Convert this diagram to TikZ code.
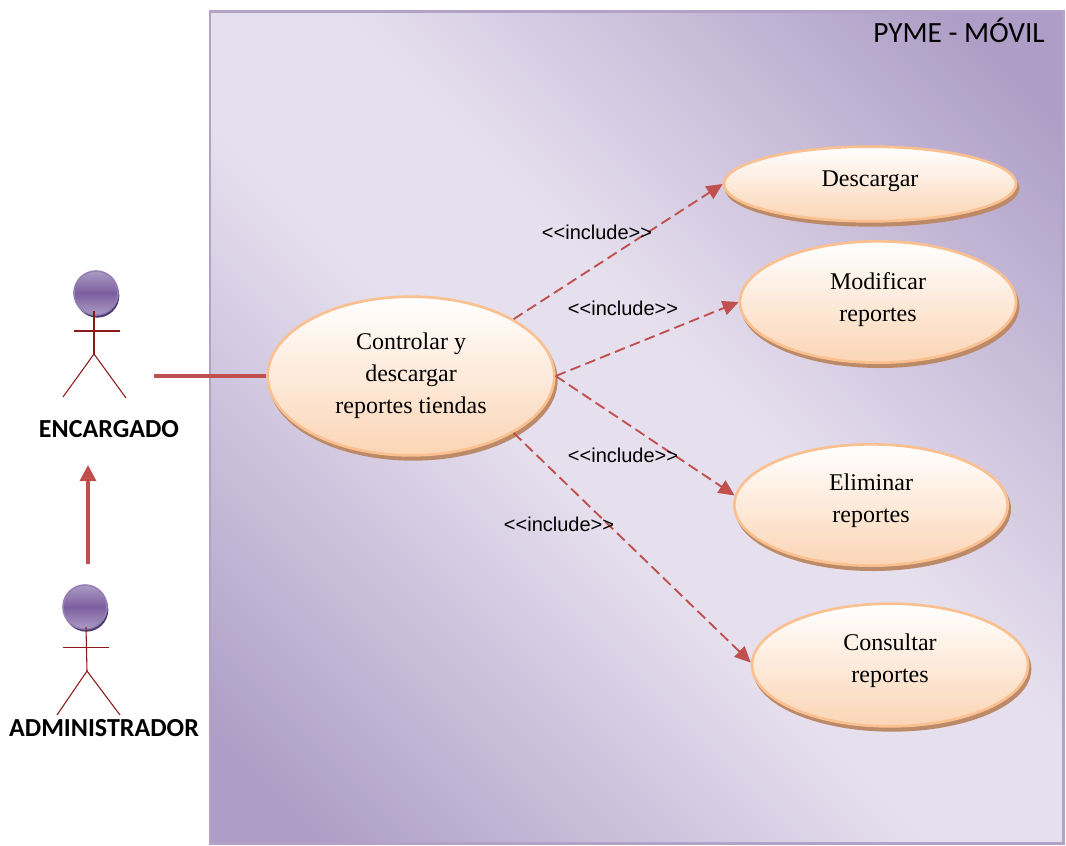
\documentclass[tikz,border=0pt]{standalone}
\usepackage{fontspec}
\setmainfont{Liberation Serif}
\newfontfamily\calibrifont{Carlito}
\newfontfamily\arialfont{Liberation Sans}
\usepackage{xcolor}
\usetikzlibrary{arrows.meta,shadows,shapes.geometric}
\definecolor{framecol}{HTML}{B3A2C7}
\definecolor{framedark}{HTML}{AE9DC6}
\definecolor{framelight}{HTML}{E6E0EE}
\definecolor{usecol}{HTML}{FAC090}
\definecolor{usebottom}{HTML}{FBD5B5}
\definecolor{shadowcol}{HTML}{BC8A68}
\definecolor{linkcol}{HTML}{C0504D}
\definecolor{stickcol}{HTML}{8B1A1A}
\definecolor{headlight}{HTML}{AB9BC4}
\definecolor{headdark}{HTML}{7C5F9F}
\definecolor{headshadow}{HTML}{483A6E}
\pgfdeclareverticalshading{framefade}{100bp}{color(0bp)=(framedark); color(19bp)=(framedark); color(45bp)=(framelight); color(55bp)=(framelight); color(81bp)=(framedark); color(100bp)=(framedark)}
\tikzset{
	usecase/.style={ellipse,draw=usecol,line width=2pt,top color=white,bottom color=usebottom,
		inner sep=0pt,align=center,font=\fontsize{18}{24}\selectfont,
		copy shadow={shadow xshift=1.5pt,shadow yshift=-3pt,opacity=1,fill=shadowcol,draw=shadowcol}},
	head/.style={circle,minimum size=33pt,inner sep=0pt,draw=headdark!80!white,line width=1.2pt,
		top color=headlight,bottom color=headlight,middle color=headdark,
		copy shadow={shadow xshift=1pt,shadow yshift=-2pt,opacity=1,fill=headshadow,draw=none}},
	stick/.style={stickcol,line width=0.8pt},
	actorname/.style={font=\calibrifont\bfseries\fontsize{19.5}{22}\selectfont},
	inclabel/.style={font=\arialfont\fontsize{15}{18}\selectfont},
	link/.style={linkcol,line width=2.3pt},
	inc/.style={linkcol,line width=1.4pt,dash pattern=on 8pt off 4pt,-{Triangle[width=11pt,length=12pt]}}
}
\begin{document}
\begin{tikzpicture}[x=0.75pt,y=-0.75pt]
	\useasboundingbox (0,0) rectangle (1066,845);
	% system frame
	\node (frame) [draw=framecol,line width=2pt,minimum width=640pt,minimum height=624pt,inner sep=0pt,
		shading=framefade,shading angle=-45] at (636.5,427.5) {};
	\node (title) [font=\calibrifont\fontsize{22}{26}\selectfont] at (959,30) {PYME - MÓVIL};

	% use cases
	\node (ctrl) [usecase,minimum width=215pt,minimum height=119pt] at (411,376) {Controlar y\\descargar\\reportes tiendas};
	\node (desc) [usecase,minimum width=219pt,minimum height=56pt] at (870,184) {Descargar\\[-16.5pt]};
	\node (modif) [usecase,minimum width=207pt,minimum height=91pt] at (878,302) {Modificar\\reportes\\[-17pt]};
	\node (elim) [usecase,minimum width=205pt,minimum height=91pt] at (871,505) {Eliminar\\reportes\\[-13.5pt]};
	\node (cons) [usecase,minimum width=207pt,minimum height=92pt] at (890,665) {Consultar\\reportes\\[-13.5pt]};

	% actors
	\node (enchead) [head] at (96,293) {};
	\coordinate (enchip) at (94,354);
	\draw [stick] (94,311) -- (enchip);
	\draw [stick] (74,331) -- (120,331);
	\draw [stick] (63,397) -- (enchip) -- (126,398);
	\node (encname) [actorname] at (109,429) {ENCARGADO};
	\node (admhead) [head] at (85,607) {};
	\coordinate (admhip) at (87,671);
	\draw [stick] (86,627) -- (admhip);
	\draw [stick] (63,647.5) -- (109,647.5);
	\draw [stick] (57,715) -- (admhip) -- (120,715);
	\node (admname) [actorname] at (104,728) {ADMINISTRADOR};

	% links
	\coordinate (encside) at (154,376);
	\coordinate (admtop) at (88,564);
	\coordinate (enclow) at (88,465);
	\draw [link] (encside) -- (ctrl.west);
	\draw [link,-{Triangle[width=12pt,length=12pt]}] (admtop) -- (enclow);
	\draw [inc] (ctrl.29) -- (desc.west);
	\draw [inc] (ctrl.east) -- (modif.west);
	\draw [inc] (ctrl.east) -- (elim.176);
	\draw [inc] (ctrl.-29) -- (cons.179);

	\node (inca) [inclabel] at (597,232) {<<include>>};
	\node (incb) [inclabel] at (623,308) {<<include>>};
	\node (incc) [inclabel] at (623,455) {<<include>>};
	\node (incd) [inclabel] at (559,524) {<<include>>};
\end{tikzpicture}
\end{document}
